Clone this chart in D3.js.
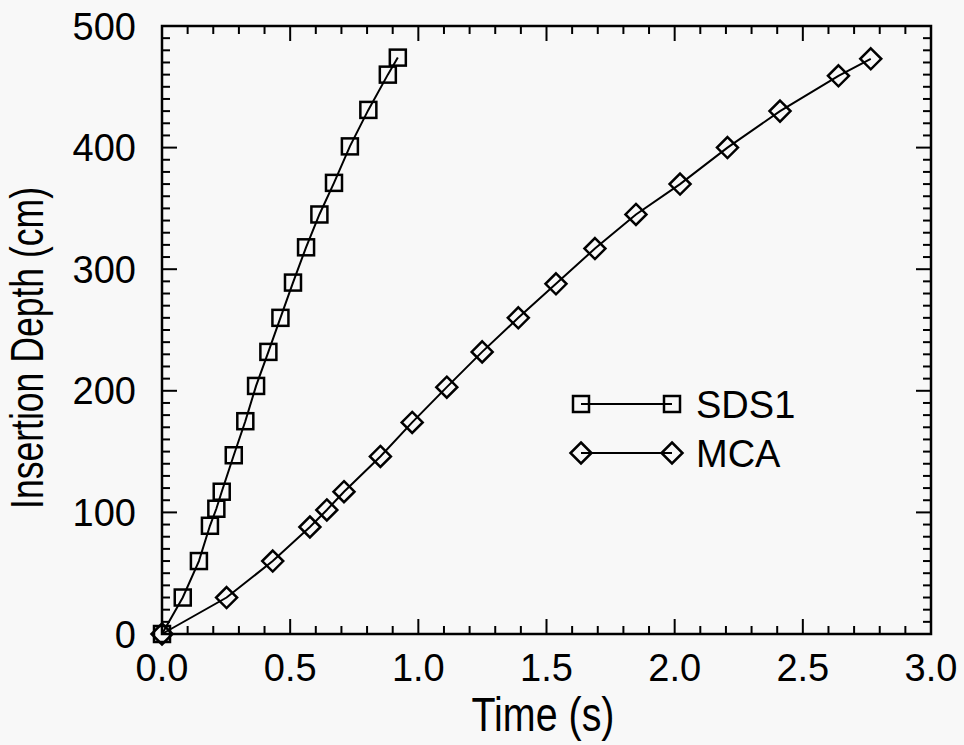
<!DOCTYPE html>
<html>
<head>
<meta charset="utf-8">
<script src="https://cdn.jsdelivr.net/npm/d3@7"></script>
<style>
  html, body { margin: 0; padding: 0; background: #f8f8f8; }
  svg { display: block; }
  text { font-family: "Liberation Sans", Arial, Helvetica, sans-serif; fill: #000; }
</style>
</head>
<body>
<svg id="chart" width="964" height="745"></svg>
<script>
// ---- data ----
const sds1Time  = [0, 0.081, 0.144, 0.187, 0.212, 0.233, 0.280, 0.325, 0.367, 0.415, 0.462, 0.511, 0.562, 0.614, 0.671, 0.733, 0.805, 0.881, 0.920];
const sds1Depth = [0, 30, 60, 89, 103, 117, 147, 175, 204, 232, 260, 289, 318, 345, 371, 401, 431, 460, 474];
const mcaTime   = [0, 0.252, 0.432, 0.577, 0.643, 0.710, 0.852, 0.976, 1.111, 1.249, 1.390, 1.537, 1.689, 1.849, 2.021, 2.206, 2.411, 2.639, 2.765];
const mcaDepth  = [0, 30, 60, 88, 102, 117, 146, 174, 203, 232, 260, 288, 317, 345, 370, 400, 430, 459, 473];
const xTicks = [0, 0.5, 1.0, 1.5, 2.0, 2.5, 3.0];
const yTicks = [0, 100, 200, 300, 400, 500];
const xLabel = "Time (s)";
const yLabel = "Insertion Depth (cm)";
const seriesNames = ["SDS1", "MCA"];

// ---- layout ----
const svg = d3.select("#chart");
const L = 162, R = 931, T = 26, B = 634;
const x = d3.scaleLinear().domain([0, 3]).range([L, R]);
const y = d3.scaleLinear().domain([0, 500]).range([B, T]);

const xMinor = d3.range(0, 3.0001, 0.1);
const yMinor = d3.range(0, 500.001, 10);

const g = svg.append("g");

// frame
g.append("rect").attr("x", L).attr("y", T).attr("width", R - L).attr("height", B - T)
  .attr("fill", "none").attr("stroke", "#000").attr("stroke-width", 2.5);

// ticks (inward, all sides)
const tickG = g.append("g").attr("stroke", "#000").attr("stroke-width", 2);
function isMajorX(v) { return xTicks.some(t => Math.abs(t - v) < 1e-6); }
function isMajorY(v) { return yTicks.some(t => Math.abs(t - v) < 1e-6); }
xMinor.forEach(v => {
  const len = isMajorX(v) ? 15 : 8;
  const px = x(v);
  tickG.append("line").attr("x1", px).attr("x2", px).attr("y1", B).attr("y2", B - len);
  tickG.append("line").attr("x1", px).attr("x2", px).attr("y1", T).attr("y2", T + len);
});
yMinor.forEach(v => {
  const len = isMajorY(v) ? 15 : 8;
  const py = y(v);
  tickG.append("line").attr("x1", L).attr("x2", L + len).attr("y1", py).attr("y2", py);
  tickG.append("line").attr("x1", R).attr("x2", R - len).attr("y1", py).attr("y2", py);
});

// tick labels
g.selectAll(".xt").data(xTicks).enter().append("text")
  .attr("x", d => x(d)).attr("y", 681)
  .attr("text-anchor", "middle").attr("font-size", 38)
  .text(d => d3.format(".1f")(d));
g.selectAll(".yt").data(yTicks).enter().append("text")
  .attr("x", 136).attr("y", d => y(d) + 13.5)
  .attr("text-anchor", "end").attr("font-size", 38)
  .text(d => d);

// axis titles (condensed face)
g.append("text").attr("x", 543).attr("y", 731)
  .attr("text-anchor", "middle").attr("font-size", 49)
  .attr("textLength", 143).attr("lengthAdjust", "spacingAndGlyphs").text(xLabel);
g.append("text").attr("transform", "translate(43,348) rotate(-90)")
  .attr("text-anchor", "middle").attr("font-size", 46)
  .attr("textLength", 322).attr("lengthAdjust", "spacingAndGlyphs").text(yLabel);

// series
const line = d3.line().x(d => x(d[0])).y(d => y(d[1]));
const sds1 = sds1Time.map((t, i) => [t, sds1Depth[i]]);
const mca = mcaTime.map((t, i) => [t, mcaDepth[i]]);

g.append("path").datum(sds1).attr("d", line).attr("fill", "none").attr("stroke", "#000").attr("stroke-width", 2);
g.append("path").datum(mca).attr("d", line).attr("fill", "none").attr("stroke", "#000").attr("stroke-width", 2);

const sq = 16, dm = 10.5;
function drawSquare(sel, cx, cy) {
  sel.append("rect").attr("x", cx - sq / 2).attr("y", cy - sq / 2).attr("width", sq).attr("height", sq)
    .attr("fill", "none").attr("stroke", "#000").attr("stroke-width", 2.5);
}
function drawDiamond(sel, cx, cy) {
  sel.append("path").attr("d", `M${cx},${cy - dm}L${cx + dm},${cy}L${cx},${cy + dm}L${cx - dm},${cy}Z`)
    .attr("fill", "none").attr("stroke", "#000").attr("stroke-width", 2.5);
}
sds1.forEach(d => drawSquare(g, x(d[0]), y(d[1])));
mca.forEach(d => drawDiamond(g, x(d[0]), y(d[1])));

// legend
const lg = g.append("g");
const lx1 = 581, lx2 = 672, ly1 = 404, ly2 = 453;
lg.append("line").attr("x1", lx1).attr("x2", lx2).attr("y1", ly1).attr("y2", ly1).attr("stroke", "#000").attr("stroke-width", 2);
drawSquare(lg, lx1, ly1); drawSquare(lg, lx2, ly1);
lg.append("text").attr("x", 696).attr("y", 418).attr("font-size", 38).text(seriesNames[0]);
lg.append("line").attr("x1", lx1).attr("x2", lx2).attr("y1", ly2).attr("y2", ly2).attr("stroke", "#000").attr("stroke-width", 2);
drawDiamond(lg, lx1, ly2); drawDiamond(lg, lx2, ly2);
lg.append("text").attr("x", 696).attr("y", 467).attr("font-size", 38).text(seriesNames[1]);
</script>
</body>
</html>
